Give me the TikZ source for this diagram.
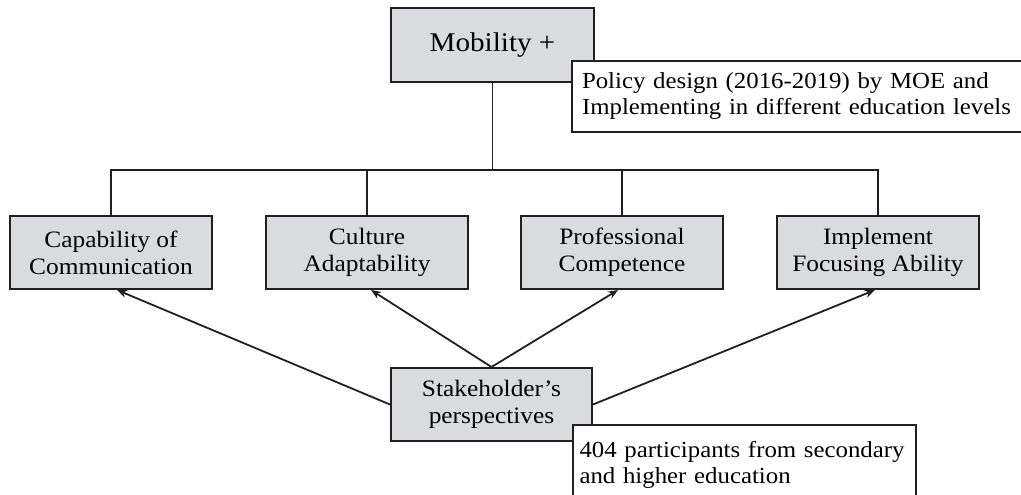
\documentclass[tikz,border=0pt]{standalone}
\usepackage{fontspec}
\setmainfont{Liberation Serif}[FakeStretch=1.08]
\usetikzlibrary{arrows.meta}
\definecolor{ink}{RGB}{35,31,32}
\definecolor{boxgray}{RGB}{218,219,221}
\hyphenpenalty=10000
\begin{document}
\begin{tikzpicture}[x=1pt,y=-1pt,
  graybox/.style={draw=ink, line width=2pt, fill=boxgray, inner sep=0pt,
    minimum width=202pt, minimum height=73pt, align=center,
    font=\fontsize{23.5}{27}\selectfont},
  notebox/.style={draw=ink, line width=2pt, fill=white, anchor=north west,
    inner xsep=10pt, inner ysep=0pt, align=left,
    font=\fontsize{23}{26}\selectfont},
  link/.style={draw=ink, line width=1.8pt},
  arrowlink/.style={link, -{Stealth[length=10pt,width=8pt]}}]
\clip (0,0) rectangle (1021,495);

% top of the hierarchy and its note
\node[graybox, minimum width=203pt, minimum height=74pt,
      font=\fontsize{27}{32}\selectfont] (mob) at (492.5,45) {Mobility +};
\node[notebox, text width=440pt, minimum height=71pt] (policy) at (571,60)
  {Policy design (2016-2019) by MOE and\\Implementing in different education levels};

% the four competences
\node[graybox] (comm) at (111,252.5) {Capability of\\Communication};
\node[graybox] (cult) at (367,252.5) {Culture\\Adaptability};
\node[graybox] (prof) at (622,252.5) {Professional\\Competence};
\node[graybox] (impl) at (878,252.5) {Implement\\Focusing Ability};

% stakeholder box and its note
\node[graybox, minimum width=201pt] (stake) at (491.5,404.5) {Stakeholder’s\\perspectives};
\node[notebox, text width=330pt, inner xsep=6.5pt, minimum height=80pt] (part) at (572,424)
  {404 participants from secondary\\and higher education};

% tree connectors
\coordinate (hub) at (492.5,170);
\draw[link] (mob.south) -- (hub);
\draw[link] (comm.north) -- (comm.north |- hub) -- (impl.north |- hub) -- (impl.north);
\draw[link] (cult.north) -- (cult.north |- hub);
\draw[link] (prof.north) -- (prof.north |- hub);

% arrows from the stakeholders
\draw[arrowlink] (stake.west) -- ([xshift=6pt]comm.south);
\draw[arrowlink] (stake.north) -- ([xshift=4pt]cult.south);
\draw[arrowlink] (stake.north) -- ([xshift=-4pt]prof.south);
\draw[arrowlink] (stake.east) -- ([xshift=-3pt]impl.south);
\end{tikzpicture}
\end{document}
